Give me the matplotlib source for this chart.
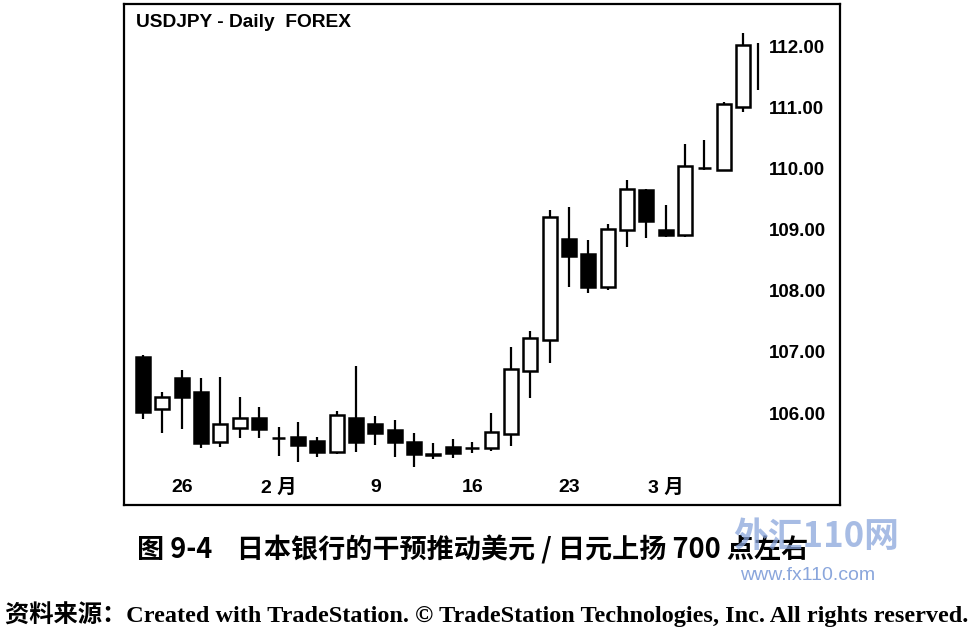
#!/usr/bin/env python3
"""USDJPY daily candlestick chart (TradeStation style) with Chinese caption"""

import numpy as np
import matplotlib
matplotlib.use('Agg')
import matplotlib.pyplot as plt
import matplotlib.transforms as mtransforms

plt.rcParams['font.family'] = ['Liberation Sans', 'Noto Sans CJK SC']

# Daily OHLC (last bar is still forming: only high/low)
opens = [106.95, 106.10, 106.61, 106.38, 105.56, 105.79, 105.95, 105.63, 105.64, 105.58,
         105.40, 105.95, 105.85, 105.75, 105.56, 105.37, 105.48, 105.46, 105.46, 105.69,
         106.72, 107.23, 108.88, 108.63, 108.09, 109.02, 109.68, 109.02, 108.94, 110.04,
         110.01, 111.04, np.nan]
highs = [106.98, 106.38, 106.74, 106.61, 106.62, 106.29, 106.13, 105.80, 105.89, 105.64,
         106.07, 106.80, 105.98, 105.92, 105.71, 105.54, 105.61, 105.56, 106.03, 107.11,
         107.37, 109.35, 109.40, 108.86, 109.12, 109.84, 109.70, 109.43, 110.43, 110.50,
         111.12, 112.25, 112.08]
lows = [105.93, 105.71, 105.77, 105.46, 105.48, 105.62, 105.62, 105.33, 105.23, 105.31,
        105.36, 105.40, 105.51, 105.31, 105.15, 105.28, 105.30, 105.38, 105.41, 105.49,
        106.28, 106.85, 108.09, 107.99, 108.04, 108.75, 108.89, 108.91, 108.91, 110.01,
        109.99, 110.95, 111.31]
closes = [106.05, 106.29, 106.29, 105.54, 105.85, 105.95, 105.77, 105.62, 105.51, 105.40,
          106.00, 105.56, 105.71, 105.56, 105.36, 105.35, 105.38, 105.47, 105.72, 106.75,
          107.26, 109.24, 108.60, 108.09, 109.04, 109.69, 109.17, 108.94, 110.07, 110.04,
          111.08, 112.05, np.nan]

# Date labels and the bar index they sit under
date_labels = ['26', '2 月', '9', '16', '23', '3 月']
date_idx = [2, 7, 12, 17, 22, 27]

price_ticks = [106, 107, 108, 109, 110, 111, 112]

fig = plt.figure(figsize=(9.78, 6.37), dpi=100)
ax = fig.add_axes([0.1268, 0.2072, 0.7321, 0.7865])

x = np.arange(len(highs)).astype(float)
x[-1] -= 0.25  # forming bar sits a little closer to the previous one
o = np.array(opens)
c = np.array(closes)

# Wicks
ax.vlines(x, lows, highs, color='black', linewidth=1.6, zorder=2)

# Bodies: hollow when up, filled when down
has_body = ~np.isnan(o)
up = has_body & (c >= o)
down = has_body & (c < o)
bottom = np.minimum(o, c)
height = np.abs(c - o)
ax.bar(x[up], height[up], bottom=bottom[up], width=0.72, color='white',
       edgecolor='black', linewidth=1.8, zorder=3)
ax.bar(x[down], height[down], bottom=bottom[down], width=0.72, color='black',
       edgecolor='black', linewidth=1.8, zorder=3)

ax.set_xlim(-0.98, 36.0)
ax.set_ylim(104.53, 112.72)
ax.set_xticks([])
ax.set_yticks([])
for s in ax.spines.values():
    s.set_linewidth(1.6)

# Price labels drawn inside the frame on the right
trans = mtransforms.blended_transform_factory(ax.transAxes, ax.transData)
for p in price_ticks:
    ax.text(0.901, p, f'{p:.2f}', transform=trans, ha='left', va='center',
            fontsize=13.5, fontweight='bold')

# Date labels inside the frame at the bottom
trans_x = mtransforms.blended_transform_factory(ax.transData, ax.transAxes)
for i, lab in zip(date_idx, date_labels):
    ax.text(i, 0.034, lab, transform=trans_x, ha='center', va='center',
            fontsize=14, fontweight='bold')

ax.text(0.017, 0.963, 'USDJPY - Daily  FOREX', transform=ax.transAxes,
        ha='left', va='center', fontsize=13.8, fontweight='bold')

# Caption and source line (the site watermark lies over the caption's end)
fig.text(0.140, 0.137, '图 9-4    日本银行的干预推动美元 / 日元上扬 700 点左右',
         ha='left', va='center', fontsize=19.5, fontweight='bold',
         family=['Noto Sans CJK SC'])
fig.text(0.750, 0.157, '外汇110网', ha='left', va='center', fontsize=25,
         fontweight='bold', style='italic', color='#8aa6dc', alpha=0.75,
         family=['Noto Sans CJK SC'])
fig.text(0.757, 0.096, 'www.fx110.com', ha='left', va='center', fontsize=14,
         color='#8aa6dc', family=['Liberation Sans'])
fig.text(0.005, 0.036,
         '资料来源：Created with TradeStation. © TradeStation Technologies, Inc. All rights reserved.',
         ha='left', va='center', fontsize=17.5, fontweight='bold',
         family=['Liberation Serif', 'Noto Sans CJK SC'])

fig.savefig('out.png', dpi=100)
